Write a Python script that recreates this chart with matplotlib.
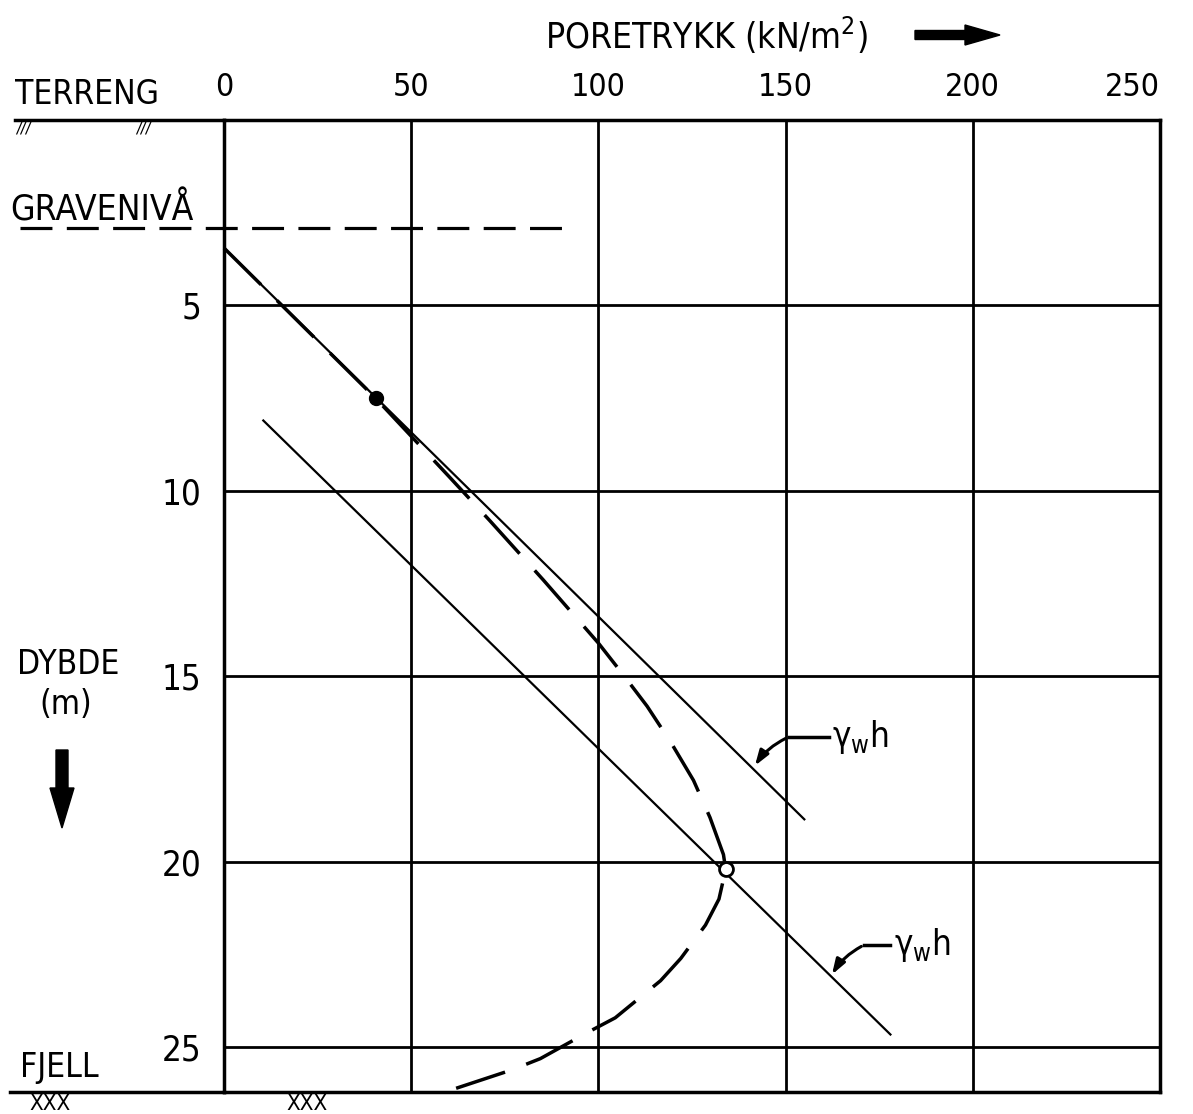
import matplotlib
matplotlib.use("Agg")
import matplotlib.pyplot as plt

# depth (m) and pore pressure (kN/m2)
upper_depth = [3.45, 18.85]
upper_pressure = [0, 155]
lower_depth = [8.1, 24.65]
lower_pressure = [10.5, 178]
measured_depth = [3.45, 7.5, 9.6, 10.8, 12.4, 14.1, 14.95, 15.8, 16.8, 17.8, 18.8, 19.8, 20.2,
                  21.0, 21.7, 22.6, 23.2, 24.2, 24.6, 25.3, 25.6, 26.1]
measured_pressure = [0, 40.5, 60, 71, 85.3, 100, 106.6, 113, 119.5, 125.4, 129.8, 133.4, 134,
                     132.2, 128.6, 122, 116.6, 104.5, 97, 84.5, 77, 62]
filled_point = (7.5, 40.5)
open_point = (20.2, 134)
excavation_depth = 2.91
x_ticks = [0, 50, 100, 150, 200, 250]
y_ticks = [5, 10, 15, 20, 25]

W, H = 1193, 1114
plt.rcParams['font.family'] = ['DejaVu Sans']
plt.rcParams['font.stretch'] = 'condensed'

fig = plt.figure(figsize=(W / 100, H / 100), dpi=100)
ax = fig.add_axes([224 / W, 1 - 1092 / H, 936 / W, 972 / H])


def px(x, y):
    # pixel position in the reference -> figure fraction
    return x / W, 1 - y / H


ax.set_xlim(0, 250)
ax.set_ylim(26.2, 0)
ax.xaxis.tick_top()
ax.set_xticks(x_ticks)
ax.set_xticklabels([str(v) for v in x_ticks], fontsize=23)
ax.get_xticklabels()[-1].set_ha('right')
ax.set_yticks(y_ticks)
ax.set_yticklabels([str(v) for v in y_ticks], fontsize=25)
ax.tick_params(axis='x', length=0, pad=12)
ax.tick_params(axis='y', length=0, pad=16)
ax.grid(True, color='black', linewidth=2)
for s in ax.spines.values():
    s.set_linewidth(2.5)

# ground lines extending to the left
ax.plot([-0.223, 0], [1, 1], transform=ax.transAxes, color='black', lw=2.5, clip_on=False)
ax.plot([-0.229, 0], [0, 0], transform=ax.transAxes, color='black', lw=2.5, clip_on=False)

# excavation level
ax.plot([-54.5, 91.2], [excavation_depth, excavation_depth], color='black', lw=2.3,
        linestyle=(0, (10, 4.5)), clip_on=False)

# hydrostatic lines
ax.plot(upper_pressure, upper_depth, color='black', lw=1.6)
ax.plot(lower_pressure, lower_depth, color='black', lw=1.6)

# measured pore pressure
ax.plot(measured_pressure, measured_depth, color='black', lw=2.5,
        linestyle=(0, (15, 6.5)), clip_on=False)
ax.plot(filled_point[1], filled_point[0], 'o', color='black', ms=10)
ax.plot(open_point[1], open_point[0], 'o', mfc='white', mec='black', mew=2, ms=10)

# gamma_w h labels with leaders
for tip, bend, tx, ty in [((141.4, 17.47), (150.8, 16.63), 161.5, 16.63),
                          ((162.0, 23.1), (170.9, 22.24), 178.0, 22.24)]:
    ax.plot([bend[0], tx], [bend[1], ty], color='black', lw=2.5)
    ax.annotate('', xy=tip, xytext=bend,
                arrowprops=dict(arrowstyle='-|>,head_length=0.9,head_width=0.3', color='black',
                                lw=2.2, connectionstyle='arc3,rad=0.15'))
    ax.text(tx + 1, ty, r'γ$_\mathregular{w}$h', fontsize=25, va='center', ha='left')

fig.text(*px(15, 95), 'TERRENG', fontsize=24, va='center', ha='left')
fig.text(*px(16, 127), '///', fontsize=12, style='italic', va='center', ha='left')
fig.text(*px(136, 127), '///', fontsize=12, style='italic', va='center', ha='left')
fig.text(*px(10, 210), 'GRAVENIVÅ', fontsize=25.5, va='center', ha='left')
fig.text(*px(68, 665), 'DYBDE', fontsize=24, va='center', ha='center')
fig.text(*px(66, 705), '(m)', fontsize=24, va='center', ha='center')
fig.text(*px(20, 1068), 'FJELL', fontsize=24, va='center', ha='left')
fig.text(*px(50, 1094), 'XXX', fontsize=16, va='top', ha='center')
fig.text(*px(307, 1094), 'XXX', fontsize=16, va='top', ha='center')
fig.text(*px(545, 35), 'PORETRYKK (kN/m$^\\mathregular{2}$)', fontsize=25.5, va='center', ha='left')

# direction arrows
fig.add_artist(matplotlib.patches.FancyArrow(*px(915, 35), 85 / W, 0, width=9 / H,
                                             head_width=20 / H, head_length=35 / W,
                                             length_includes_head=True, color='black',
                                             transform=fig.transFigure))
fig.add_artist(matplotlib.patches.FancyArrow(*px(62, 750), 0, -78 / H, width=12 / W,
                                             head_width=24 / W, head_length=40 / H,
                                             length_includes_head=True, color='black',
                                             transform=fig.transFigure))

fig.savefig('out.png', dpi=100)
